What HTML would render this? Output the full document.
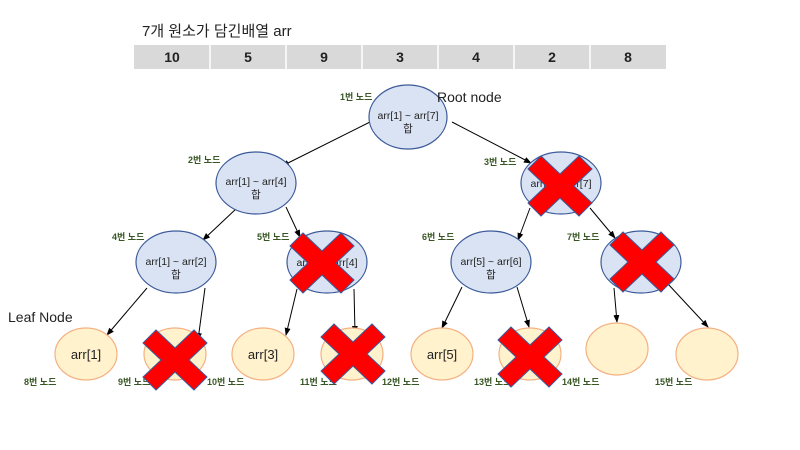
<!DOCTYPE html>
<html><head><meta charset="utf-8"><style>
body{margin:0;background:#fff}
svg{display:block}
text{font-family:"Liberation Sans","Noto Sans CJK KR",sans-serif}
.lbl{font-size:9px;fill:#375623;font-weight:bold}
.in{font-size:10.5px;fill:#222}
.lf{font-size:13px;fill:#222}
</style></head><body>
<svg width="800" height="450" viewBox="0 0 800 450">
<defs>
<marker id="a" markerWidth="8" markerHeight="8" refX="7" refY="4" orient="auto" markerUnits="userSpaceOnUse"><path d="M0,1 L8,4 L0,7z" fill="#000"/></marker>
<polygon id="x" points="-32,-17 -19,-30 0,-12 19,-30 32,-17 14,0 32,17 19,30 0,12 -19,30 -32,17 -14,0" fill="#ff0000" stroke="#3b5a9a" stroke-width="1"/>
</defs>
<text x="142" y="36" font-size="15" fill="#222">7개 원소가 담긴배열 arr</text>
<rect x="134" y="45" width="532" height="24" fill="#d9d9d9"/>
<g stroke="#fff" stroke-width="1.5"><line x1="210" y1="45" x2="210" y2="69"/><line x1="286" y1="45" x2="286" y2="69"/><line x1="362" y1="45" x2="362" y2="69"/><line x1="438" y1="45" x2="438" y2="69"/><line x1="514" y1="45" x2="514" y2="69"/><line x1="590" y1="45" x2="590" y2="69"/></g>
<g font-size="14" font-weight="bold" text-anchor="middle" fill="#222"><text x="172" y="62">10</text><text x="248" y="62">5</text><text x="324" y="62">9</text><text x="400" y="62">3</text><text x="476" y="62">4</text><text x="552" y="62">2</text><text x="628" y="62">8</text></g>
<g stroke="#000" stroke-width="1" marker-end="url(#a)">
<line x1="370" y1="122" x2="282" y2="166"/><line x1="452" y1="122" x2="531" y2="163"/>
<line x1="237" y1="208" x2="203" y2="240"/><line x1="286" y1="207" x2="300" y2="237"/>
<line x1="530" y1="208" x2="518" y2="240"/><line x1="590" y1="208" x2="615" y2="238"/>
<line x1="147" y1="288" x2="107" y2="335"/><line x1="205" y1="288" x2="198" y2="340"/>
<line x1="297" y1="289" x2="286" y2="335"/><line x1="354" y1="289" x2="355" y2="333"/>
<line x1="462" y1="287" x2="442" y2="328"/><line x1="517" y1="287" x2="529" y2="327"/>
<line x1="614" y1="288" x2="617" y2="322"/><line x1="668" y1="284" x2="708" y2="327"/>
</g>
<g fill="#dae3f3" stroke="#3b5a9a" stroke-width="1.2">
<ellipse cx="408" cy="117" rx="39" ry="32"/>
<ellipse cx="256" cy="183" rx="40" ry="31"/><ellipse cx="561" cy="183" rx="40" ry="31"/>
<ellipse cx="176" cy="262" rx="40" ry="31"/><ellipse cx="327" cy="262" rx="40" ry="31"/>
<ellipse cx="491" cy="262" rx="40" ry="31"/><ellipse cx="641" cy="262" rx="40" ry="31"/>
</g>
<g fill="#fff2cc" stroke="#f4b183" stroke-width="1.2">
<ellipse cx="86" cy="354" rx="31" ry="26"/><ellipse cx="175" cy="354" rx="31" ry="26"/>
<ellipse cx="263" cy="354" rx="31" ry="26"/><ellipse cx="352" cy="354" rx="31" ry="26"/>
<ellipse cx="442" cy="354" rx="31" ry="26"/><ellipse cx="530" cy="354" rx="31" ry="26"/>
<ellipse cx="617" cy="349" rx="31" ry="26"/><ellipse cx="707" cy="354" rx="31" ry="26"/>
</g>
<g class="in" text-anchor="middle">
<text x="408" y="119">arr[1] ~ arr[7]</text><text x="408" y="132">합</text>
<text x="256" y="185">arr[1] ~ arr[4]</text><text x="256" y="198">합</text>
<text x="561" y="187">arr[5] ~ arr[7]</text>
<text x="176" y="265">arr[1] ~ arr[2]</text><text x="176" y="278">합</text>
<text x="327" y="266">arr[3] ~ arr[4]</text>
<text x="491" y="265">arr[5] ~ arr[6]</text><text x="491" y="278">합</text>
</g>
<g class="lf" text-anchor="middle"><text x="86" y="359">arr[1]</text><text x="263" y="359">arr[3]</text><text x="442" y="359">arr[5]</text></g>
<text x="437" y="102" font-size="14" fill="#222">Root node</text>
<text x="8" y="322" font-size="14" fill="#222">Leaf Node</text>
<g class="lbl">
<text x="340" y="100">1번 노드</text><text x="188" y="163">2번 노드</text><text x="484" y="165">3번 노드</text>
<text x="112" y="240">4번 노드</text><text x="257" y="240">5번 노드</text><text x="422" y="240">6번 노드</text><text x="567" y="240">7번 노드</text>
<text x="24" y="385">8번 노드</text><text x="118" y="385">9번 노드</text><text x="207" y="385">10번 노드</text><text x="300" y="385">11번 노드</text>
<text x="382" y="385">12번 노드</text><text x="474" y="385">13번 노드</text><text x="562" y="385">14번 노드</text><text x="655" y="385">15번 노드</text>
</g>
<use href="#x" x="560" y="186"/><use href="#x" x="322" y="263"/><use href="#x" x="642" y="262"/>
<use href="#x" x="175" y="360"/><use href="#x" x="353" y="354"/><use href="#x" x="530" y="357"/>
</svg>
</body></html>
